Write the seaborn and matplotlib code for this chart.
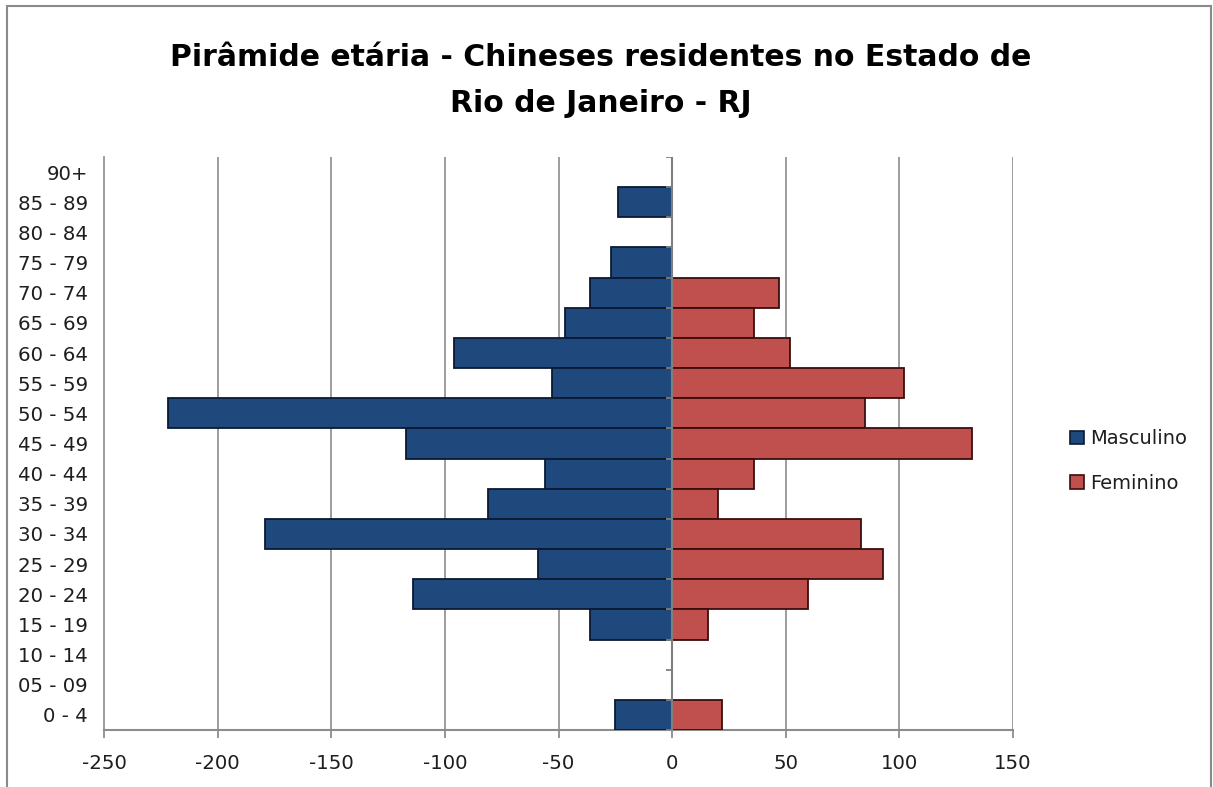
import matplotlib
matplotlib.use("Agg")
import matplotlib.pyplot as plt
from matplotlib.patches import Patch, Rectangle
import pandas as pd
import seaborn as sns

# Age groups, oldest first (top of the pyramid)
age_groups = ["90+", "85 - 89", "80 - 84", "75 - 79", "70 - 74", "65 - 69",
              "60 - 64", "55 - 59", "50 - 54", "45 - 49", "40 - 44", "35 - 39",
              "30 - 34", "25 - 29", "20 - 24", "15 - 19", "10 - 14", "05 - 09",
              "0 - 4"]
# Male counts are stored as negatives so they extend to the left
masculino = [0, -24, 0, -27, -36, -47, -96, -53, -222, -117, -56, -81,
             -179, -59, -114, -36, 0, 0, -25]
feminino = [0, 0, 0, 0, 47, 36, 52, 102, 85, 132, 36, 20,
            83, 93, 60, 16, 0, 0, 22]
x_ticks = [-250, -200, -150, -100, -50, 0, 50, 100, 150]
series_names = ["Masculino", "Feminino"]
series_colors = ["#1F497D", "#C0504D"]
edge_colors = ["#0B1A33", "#3A0E0D"]

df = pd.concat([
    pd.DataFrame({"faixa": age_groups, "valor": masculino, "sexo": series_names[0]}),
    pd.DataFrame({"faixa": age_groups, "valor": feminino, "sexo": series_names[1]}),
])
df = df[df["valor"] != 0]

sns.set_theme(style="white")
plt.rcParams["font.family"] = ["DejaVu Sans"]

W, H = 1213, 787
fig = plt.figure(figsize=(W / 100, H / 100), dpi=100)
ax = fig.add_axes([104 / W, 1 - 730 / H, 909 / W, 573 / H])

sns.barplot(data=df, x="valor", y="faixa", hue="sexo", order=age_groups,
            hue_order=series_names, palette=series_colors, dodge=False,
            width=1.0, orient="h", ax=ax, legend=False, errorbar=None,
            saturation=1, zorder=3)

# outline each bar with a darker shade of its fill
for container, ec in zip(ax.containers, edge_colors):
    for bar in container:
        bar.set_edgecolor(ec)
        bar.set_linewidth(1.3)

grid_color = "#8C8C8C"
ax.set_xlim(x_ticks[0], x_ticks[-1])
ax.set_ylim(len(age_groups) - 0.5, -0.5)
ax.set_xticks(x_ticks)
ax.set_xticklabels([str(v) for v in x_ticks])
for v in x_ticks[1:]:
    ax.axvline(v, color=grid_color, lw=1.2, zorder=1)

# vertical value axis at zero with short ticks between age groups
ax.axvline(0, color="#7F7F7F", lw=1.5, zorder=4)
bounds = [i - 0.5 for i in range(len(age_groups) + 1)]
ax.hlines(bounds, -2.8, 0, color="#7F7F7F", lw=1.3, zorder=4)

for side in ["top", "right"]:
    ax.spines[side].set_visible(False)
ax.spines["left"].set_color(grid_color)
ax.spines["left"].set_linewidth(1.2)
ax.spines["bottom"].set_color(grid_color)
ax.spines["bottom"].set_linewidth(1.5)

ax.tick_params(axis="x", bottom=True, direction="out", length=6, width=1.3,
               color=grid_color, pad=11, labelsize=14.2, labelcolor="#1E1E1E")
ax.tick_params(axis="y", left=False, length=0, pad=11.5, labelsize=14.2,
               labelcolor="#1E1E1E")
ax.set_xlabel("")
ax.set_ylabel("")

title_font = dict(ha="center", va="center", fontsize=21.5, fontweight="bold",
                  family=["DejaVu Sans"], color="#000000")
fig.text(601 / W, 1 - 58 / H,
         "Pirâmide etária - Chineses residentes no Estado de", **title_font)
fig.text(601 / W, 1 - 103 / H, "Rio de Janeiro - RJ", **title_font)

handles = [Patch(facecolor=c, edgecolor=e, linewidth=1.2)
           for c, e in zip(series_colors, edge_colors)]
fig.legend(handles, series_names, loc="center left",
           bbox_to_anchor=(1070 / W, 1 - 461 / H), frameon=False,
           fontsize=14, handlelength=0.7, handleheight=0.7,
           handletextpad=0.35, labelspacing=1.3, labelcolor="#1E1E1E",
           borderpad=0, borderaxespad=0)

# thin frame around the whole chart
fig.patches.append(Rectangle((7 / W, -0.05), (1211 - 7) / W, 1 - 6 / H + 0.05,
                             transform=fig.transFigure, fill=False,
                             edgecolor="#8A8A8A", lw=1.5, clip_on=False))

fig.savefig("out.png", dpi=100, facecolor="white")
